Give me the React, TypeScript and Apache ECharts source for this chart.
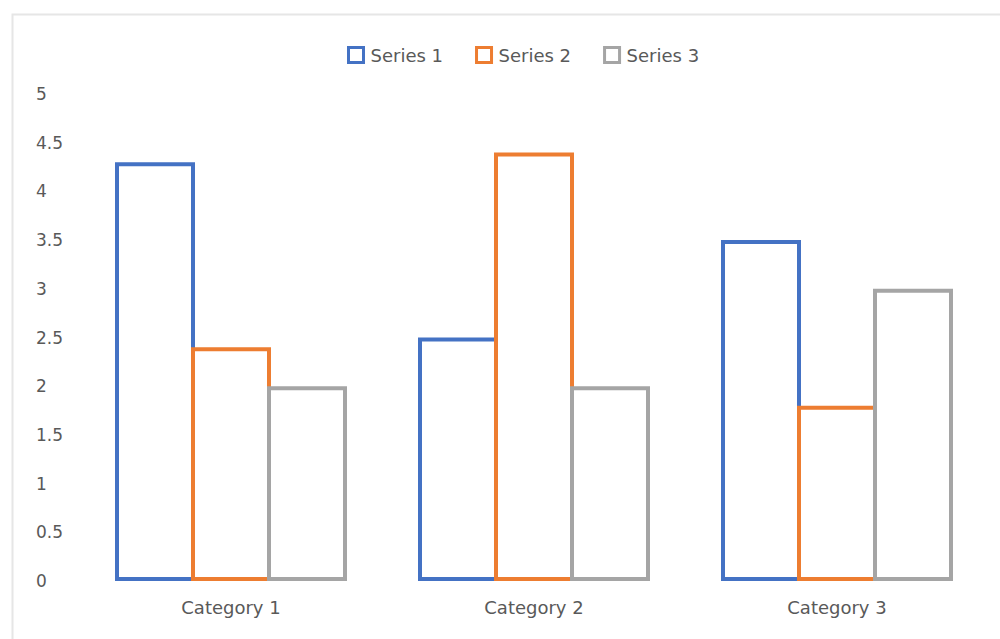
import React, { useEffect, useRef } from "react";
import * as echarts from "echarts";

const categories = ["Category 1", "Category 2", "Category 3"];
const seriesNames = ["Series 1", "Series 2", "Series 3"];
const series1 = [4.3, 2.5, 3.5];
const series2 = [2.4, 4.4, 1.8];
const series3 = [2, 2, 3];
const colors = ["#4472C4", "#ED7D31", "#A5A5A5"];

export default function App() {
  const ref = useRef<HTMLDivElement>(null);
  useEffect(() => {
    document.body.style.margin = "0";
    const chart = echarts.init(ref.current!, undefined, { renderer: "svg" });
    const values = [series1, series2, series3];
    const font = "DejaVu Sans";
    chart.setOption({
      animation: false,
      backgroundColor: "#ffffff",
      graphic: [
        {
          type: "rect",
          left: 10,
          top: 12,
          shape: { x: 0, y: 0, width: 1000, height: 700 },
          style: { fill: "none", stroke: "#e6e6e6", lineWidth: 2 },
          silent: true,
        },
      ],
      legend: {
        left: 342,
        top: 41,
        itemWidth: 15,
        itemHeight: 15,
        itemGap: 32,
        icon: "rect",
        textStyle: { color: "#595959", fontFamily: font, fontSize: 18, padding: [0, 0, 0, 2] },
        data: seriesNames.map((n, i) => ({
          name: n,
          itemStyle: { color: "#ffffff", borderColor: colors[i], borderWidth: 3 },
        })),
      },
      grid: { left: 79.5, right: 11.5, top: 94, bottom: 58, containLabel: false },
      xAxis: {
        type: "category",
        data: categories,
        axisLine: { show: false },
        axisTick: { show: false },
        splitLine: { show: false },
        axisLabel: { color: "#595959", fontFamily: font, fontSize: 18, margin: 17 },
      },
      yAxis: {
        type: "value",
        min: 0,
        max: 5,
        interval: 0.5,
        axisLine: { show: false },
        axisTick: { show: false },
        splitLine: { show: false },
        axisLabel: {
          color: "#595959",
          fontFamily: font,
          fontSize: 17,
          align: "left",
          margin: 43.5,
        },
      },
      series: seriesNames.map((n, i) => ({
        name: n,
        type: "bar",
        data: values[i],
        barWidth: 80,
        barGap: "-5%",
        itemStyle: { color: "#ffffff", borderColor: colors[i], borderWidth: 4 },
      })),
    });
    return () => chart.dispose();
  }, []);
  return <div ref={ref} style={{ width: 1000, height: 639 }} />;
}
